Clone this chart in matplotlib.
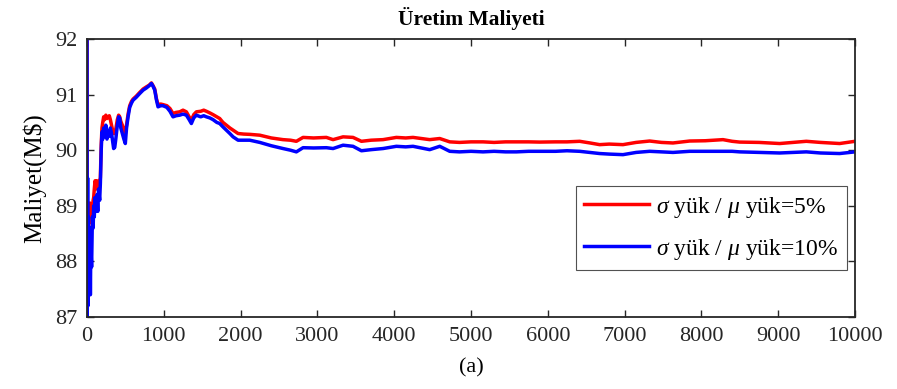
import matplotlib
matplotlib.use("Agg")
import matplotlib.pyplot as plt

plt.rcParams['font.family'] = ['Liberation Serif', 'DejaVu Serif']
plt.rcParams['mathtext.fontset'] = 'custom'
plt.rcParams['mathtext.rm'] = 'Liberation Serif'
plt.rcParams['mathtext.it'] = 'Liberation Serif:italic'

title = "Üretim Maliyeti"
ylabel = "Maliyet(M\\$)"
xlabel = "(a)"
label_5 = r"$\sigma$ yük / $\mu$ yük=5%"
label_10 = r"$\sigma$ yük / $\mu$ yük=10%"

iter_early = [0, 3, 8, 12, 16, 20, 25, 30, 38, 44, 50, 60, 70, 80, 87, 95, 105, 115, 130, 140,
              150, 165, 174, 185, 195, 205, 217, 230, 245, 260, 275, 290, 304, 320, 335, 347, 361, 375, 395, 412,
              426, 440, 460, 480, 499, 515, 535, 556, 580, 600, 640, 687, 730, 774, 810, 839, 860, 882, 905, 925,
              960, 990, 1040, 1080, 1120, 1160, 1207, 1250, 1294, 1330, 1359, 1390, 1424, 1480, 1520, 1555, 1600, 1641, 1690, 1728,
              1770, 1815, 1860, 1902, 1967, 2040, 2119]
red_early = [92.5, 87.0, 88.7, 88.0, 88.5, 88.2, 88.9, 88.7, 89.05, 88.8, 88.9, 89.0, 88.95, 89.1, 89.15, 89.3, 89.45, 89.3, 89.45, 89.35,
             89.4, 89.45, 89.5, 90.1, 90.4, 90.5, 90.6, 90.55, 90.63, 90.57, 90.6, 90.62, 90.55, 90.45, 90.35, 90.3, 90.3, 90.38, 90.55, 90.63,
             90.6, 90.52, 90.45, 90.36, 90.3, 90.45, 90.65, 90.8, 90.88, 90.92, 90.97, 91.04, 91.1, 91.14, 91.17, 91.21, 91.16, 91.1, 90.92, 90.82,
             90.83, 90.82, 90.8, 90.75, 90.66, 90.68, 90.69, 90.72, 90.69, 90.6, 90.54, 90.64, 90.69, 90.7, 90.72, 90.7, 90.67, 90.64, 90.6, 90.57,
             90.5, 90.45, 90.4, 90.36, 90.3, 90.29, 90.285]
blue_early = [93.5, 86.8, 89.5, 87.2, 88.8, 87.6, 88.5, 87.5, 88.6, 87.4, 88.3, 87.9, 88.8, 88.6, 89.0, 88.8, 89.15, 88.9, 89.2, 88.9,
              89.3, 89.1, 89.4, 90.0, 90.33, 90.2, 90.4, 90.25, 90.45, 90.2, 90.35, 90.25, 90.4, 90.3, 90.15, 90.03, 90.05, 90.2, 90.45, 90.6,
              90.58, 90.4, 90.3, 90.2, 90.12, 90.4, 90.6, 90.77, 90.85, 90.9, 90.95, 91.02, 91.08, 91.12, 91.16, 91.2, 91.15, 91.08, 90.9, 90.78,
              90.8, 90.8, 90.77, 90.7, 90.6, 90.62, 90.63, 90.65, 90.63, 90.55, 90.48, 90.58, 90.63, 90.6, 90.62, 90.6, 90.58, 90.55, 90.5, 90.48,
              90.42, 90.36, 90.3, 90.24, 90.18, 90.18, 90.18]

iter_late = [2250, 2400, 2552, 2650, 2726, 2813, 2950, 3117, 3204, 3334, 3464, 3573, 3700, 3855, 4028, 4150, 4245, 4350, 4462, 4593,
             4723, 4850, 5000, 5157, 5300, 5450, 5591, 5750, 5894, 6100, 6250, 6415, 6550, 6675, 6800, 6979, 7150, 7326, 7480, 7630,
             7847, 8050, 8281, 8400, 8498, 8750, 9019, 9200, 9366, 9550, 9800, 10000]
red_late = [90.27, 90.22, 90.19, 90.18, 90.16, 90.23, 90.22, 90.23, 90.19, 90.24, 90.23, 90.16, 90.18, 90.19, 90.23, 90.22, 90.23, 90.21, 90.19, 90.21,
            90.15, 90.14, 90.15, 90.15, 90.14, 90.15, 90.15, 90.15, 90.146, 90.15, 90.15, 90.16, 90.13, 90.10, 90.11, 90.10, 90.14, 90.165, 90.14, 90.13,
            90.165, 90.17, 90.19, 90.16, 90.146, 90.14, 90.12, 90.14, 90.16, 90.14, 90.12, 90.16]
blue_late = [90.14, 90.08, 90.03, 90.0, 89.97, 90.045, 90.04, 90.045, 90.03, 90.09, 90.07, 89.99, 90.01, 90.03, 90.07, 90.06, 90.07, 90.04, 90.01, 90.07,
             89.98, 89.97, 89.98, 89.97, 89.98, 89.97, 89.97, 89.98, 89.98, 89.98, 89.99, 89.98, 89.96, 89.94, 89.93, 89.92, 89.96, 89.98, 89.97, 89.96,
             89.98, 89.98, 89.98, 89.98, 89.97, 89.96, 89.95, 89.96, 89.97, 89.95, 89.94, 89.97]

iterations = iter_early + iter_late
cost_5 = red_early + red_late
cost_10 = blue_early + blue_late

xticks = list(range(0, 10001, 1000))
yticks = [87, 88, 89, 90, 91, 92]

fig = plt.figure(figsize=(8.97, 3.89), dpi=100)
ax = fig.add_axes([87 / 897, 1 - 317 / 389, 768 / 897, 278 / 389])

ax.plot(iterations, cost_5, color='#ff0000', lw=2.5, label=label_5)
ax.plot(iterations, cost_10, color='#0000ff', lw=2.5, label=label_10)

ax.set_xlim(0, 10000)
ax.set_ylim(87, 92)
ax.set_xticks(xticks)
ax.set_yticks(yticks)
ax.tick_params(direction='in', length=5, width=1.0, top=True, right=True,
               labelsize=16, colors='#262626', pad=7)
for s in ax.spines.values():
    s.set_linewidth(1.3)
    s.set_color('#262626')

ax.set_title(title, fontsize=15.5, fontweight='bold', pad=10)
ax.set_ylabel(ylabel, fontsize=18, labelpad=6)
ax.set_xlabel(xlabel, fontsize=16, labelpad=9)

leg = ax.legend(loc='lower right', bbox_to_anchor=((847 - 87) / 768, (317 - 270) / 278),
                borderaxespad=0, fontsize=17, fancybox=False, frameon=True,
                handlelength=2.75, handletextpad=0.3, borderpad=0.35, labelspacing=0.72)
leg.get_frame().set_edgecolor('#262626')
leg.get_frame().set_linewidth(0.8)

fig.savefig('out.png', dpi=100)
